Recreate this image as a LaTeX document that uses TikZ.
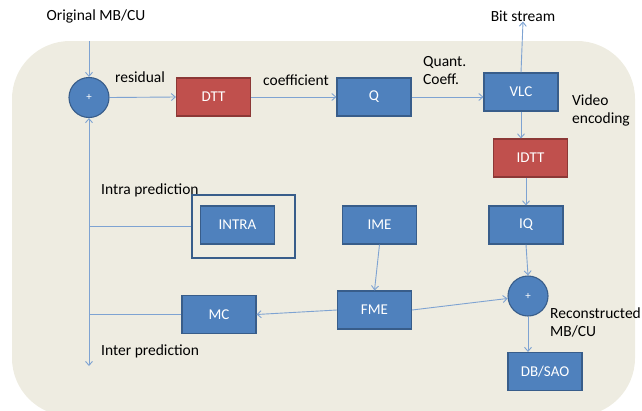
\documentclass[tikz,border=0pt]{standalone}
\usepackage{fontspec}
\setmainfont{Carlito}
\usetikzlibrary{shapes,arrows.meta,positioning,calc}
\usepackage{xcolor}
\definecolor{boxblue}{HTML}{4F81BD}
\definecolor{boxblueedge}{HTML}{385D8A}
\definecolor{boxred}{HTML}{C0504D}
\definecolor{boxrededge}{HTML}{8C3836}
\definecolor{linkblue}{HTML}{7EA3D2}
\definecolor{panel}{HTML}{EEECE1}

\begin{document}
\begin{tikzpicture}[x=1pt, y=-1pt,
    box/.style={rectangle, draw=boxblueedge, fill=boxblue, line width=1.1pt, minimum width=74pt, minimum height=38pt, text=white, font=\fontsize{15}{18}\selectfont},
    redbox/.style={box, draw=boxrededge, fill=boxred},
    adder/.style={circle, draw=boxblueedge, fill=boxblue, line width=1.1pt, minimum size=40pt, inner sep=0pt, text=white, font=\fontsize{11}{13}\selectfont},
    lbl/.style={inner sep=0pt, align=left, font=\fontsize{15.5}{18}\selectfont},
    flow/.style={draw=linkblue, line width=0.9pt, -{Straight Barb[length=4pt,width=7pt]}},
    link/.style={draw=linkblue, line width=0.9pt}]

    \useasboundingbox (0,0) rectangle (642,410);
    \fill[panel, rounded corners=58pt] (12,41) rectangle (635,416);

    % forward path
    \node[adder] (plus1) at (89,97.5) {+};
    \node[redbox] (dtt) at (213.5,97) {DTT};
    \node[box] (q) at (374,97) {Q};
    \node[box] (vlc) at (521,92) {VLC};
    \node[redbox] (idtt) at (530.5,158) {IDTT};
    \node[box] (iq) at (526,225) {IQ};
    \node[adder] (plus2) at (528,296) {+};
    \node[box] (dbsao) at (545,371.5) {DB/SAO};

    % prediction
    \node[box] (ime) at (379.5,225) {IME};
    \node[box] (fme) at (374.5,310) {FME};
    \node[box] (mc) at (219,314.5) {MC};
    \node[box] (intra) at (237.5,225) {INTRA};
    \node[draw=boxblueedge, line width=1.1pt, minimum width=103pt, minimum height=63pt] (intrabox) at (243.5,226.5) {};

    % labels
    \node[lbl] (orig) at (96,16) {Original MB/CU};
    \node[lbl] (bits) at (523,16) {Bit stream};
    \node[lbl] (resid) at (140,77) {residual};
    \node[lbl] (coef) at (296,80) {coefficient};
    \node[lbl, anchor=west] (qcoef) at (423,71) {Quant.\\Coeff.};
    \node[lbl, anchor=west] (venc) at (572,110) {Video\\encoding};
    \node[lbl, anchor=west] (intral) at (101,190) {Intra prediction};
    \node[lbl, anchor=west] (interl) at (101,351) {Inter prediction};
    \node[lbl, anchor=west] (recon) at (550,322) {Reconstructed\\MB/CU};

    \coordinate (src) at (89,41);
    \coordinate (sink) at (89,366);

    \draw[flow] (src) -- (plus1.north);
    \draw[flow] (plus1.east) -- (dtt.west);
    \draw[flow] (dtt.east) -- (q.west);
    \draw[flow] (q.east) -- (q.east -| vlc.west);
    \draw[flow] (vlc.north) -- (bits.south);
    \draw[flow] (vlc.south) -- (vlc.south |- idtt.north);
    \draw[flow] (idtt.south -| iq.north) -- (iq.north);
    \draw[flow] (iq.south) -- (plus2.north);
    \draw[flow] (plus2.south) -- (plus2.south |- dbsao.north);
    \draw[flow] (ime.south) -- (fme.north);
    \draw[flow] (fme.east) -- (plus2);
    \draw[flow] (fme.west) -- (mc.east);
    \draw[link] (mc.west) -- (mc.west -| plus1);
    \draw[link] (intrabox.west) -- (intrabox.west -| plus1);
    \draw[flow, {Straight Barb[length=4pt,width=7pt]}-{Straight Barb[length=4pt,width=7pt]}] (sink) -- (plus1.south);
\end{tikzpicture}
\end{document}
